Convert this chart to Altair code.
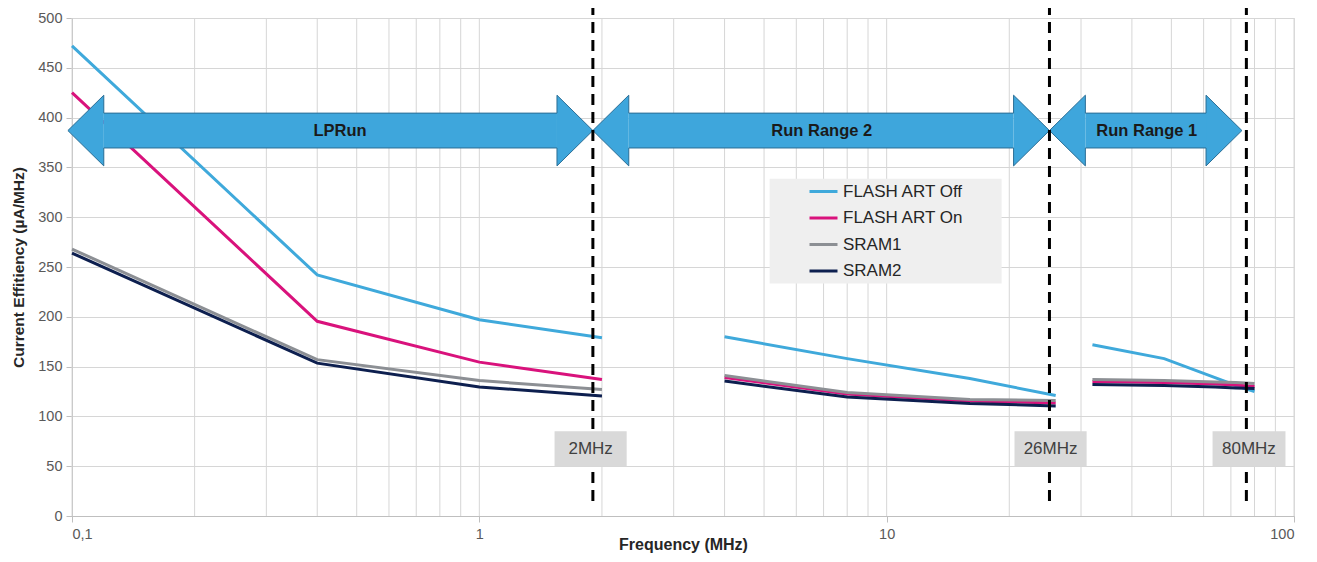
import altair as alt
import pandas as pd

# ---------------- data ----------------
SERIES = ["FLASH ART Off", "FLASH ART On", "SRAM1", "SRAM2"]
COLORS = ["#3fa9db", "#d9127c", "#8c8f94", "#0d1f4f"]

FREQ_LP = [0.1, 0.4, 1, 2]
FREQ_R2 = [4, 8, 16, 26]
FREQ_R1 = [32, 48, 64, 72, 80]

FLASH_OFF_LP = [472, 242, 197, 179]
FLASH_OFF_R2 = [180, 158, 138, 121]
FLASH_OFF_R1 = [172, 158, 139, 131, 125]

FLASH_ON_LP = [425, 195.5, 154.5, 137]
FLASH_ON_R2 = [139, 122.5, 115.5, 113.5]
FLASH_ON_R1 = [135, 134, 132.5, 131.5, 130]

SRAM1_LP = [268, 157, 136, 127]
SRAM1_R2 = [141, 124, 117, 116]
SRAM1_R1 = [137, 136, 134.5, 134, 133]

SRAM2_LP = [264, 153.5, 129.5, 120.5]
SRAM2_R2 = [135.5, 119.5, 113, 110.5]
SRAM2_R1 = [132, 131, 129.5, 128.5, 128]

X_TICKS = [0.1, 1, 10, 100]
X_GRID = [m * d for d in (0.1, 1, 10) for m in range(1, 10)] + [100]
Y_TICKS = list(range(0, 501, 50))

# range annotations
RANGE_NAMES = ["LPRun", "Run Range 2", "Run Range 1"]
RANGE_START = [0.0977, 1.9, 25.1]
RANGE_END = [1.9, 25.1, 74.5]
RANGE_LABEL_X = [0.455, 6.93, 43.5]
ARROW_Y = 387
ARROW_BODY = 17.5
ARROW_HEAD = 35.5
HEAD_FACTOR = 1.225

BOUNDARY_FREQ = [1.9, 25.1, 76.4]
BOUNDARY_LABEL = ["2MHz", "26MHz", "80MHz"]
BOX_LO = [1.53, 20.6, 63.1]
BOX_HI = [2.30, 30.97, 95.3]
BOX_TEXT_X = [1.876, 25.26, 77.5]
BOX_Y = [50, 85]

LEGEND_BOX_X = [5.16, 19.15]
LEGEND_BOX_Y = [233.5, 338.7]

FONT = "Liberation Sans"

# ---------------- tables ----------------
rows = []
series_vals = {
    "FLASH ART Off": [FLASH_OFF_LP, FLASH_OFF_R2, FLASH_OFF_R1],
    "FLASH ART On": [FLASH_ON_LP, FLASH_ON_R2, FLASH_ON_R1],
    "SRAM1": [SRAM1_LP, SRAM1_R2, SRAM1_R1],
    "SRAM2": [SRAM2_LP, SRAM2_R2, SRAM2_R1],
}
for s in SERIES:
    for seg, (fr, vals) in enumerate(zip([FREQ_LP, FREQ_R2, FREQ_R1], series_vals[s])):
        for f, v in zip(fr, vals):
            rows.append({"series": s, "seg": f"{s}-{seg}", "f": f, "v": v})
lines_df = pd.DataFrame(rows)

head_rows, body_rows, outline_rows = [], [], []
yc, yb0, yb1 = ARROW_Y, ARROW_Y - ARROW_BODY, ARROW_Y + ARROW_BODY
yh0, yh1 = ARROW_Y - ARROW_HEAD, ARROW_Y + ARROW_HEAD
for name, a, b in zip(RANGE_NAMES, RANGE_START, RANGE_END):
    ha, hb = a * HEAD_FACTOR, b / HEAD_FACTOR
    head_rows += [
        {"hid": name + "-L", "f": a, "v": yc, "v2": yc},
        {"hid": name + "-L", "f": ha, "v": yh0, "v2": yh1},
        {"hid": name + "-R", "f": hb, "v": yh0, "v2": yh1},
        {"hid": name + "-R", "f": b, "v": yc, "v2": yc},
    ]
    body_rows.append({"name": name, "f": ha, "f2": hb, "v": yb0, "v2": yb1})
    poly = [(a, yc), (ha, yh1), (ha, yb1), (hb, yb1), (hb, yh1), (b, yc),
            (hb, yh0), (hb, yb0), (ha, yb0), (ha, yh0), (a, yc)]
    for k, (x, y) in enumerate(poly):
        outline_rows.append({"name": name, "k": k, "f": x, "v": y})
head_df = pd.DataFrame(head_rows)
body_df = pd.DataFrame(body_rows)
outline_df = pd.DataFrame(outline_rows)
arrow_lbl_df = pd.DataFrame({"name": RANGE_NAMES, "f": RANGE_LABEL_X, "v": [ARROW_Y] * 3})

grid_df = pd.DataFrame({"f": X_GRID, "v": [0] * len(X_GRID), "v2": [500] * len(X_GRID)})
bound_df = pd.DataFrame({"f": BOUNDARY_FREQ, "v": [15] * 3, "v2": [517] * 3})
box_df = pd.DataFrame({"lbl": BOUNDARY_LABEL, "f": BOX_LO, "f2": BOX_HI,
                       "fc": BOX_TEXT_X, "v": [BOX_Y[0]] * 3, "v2": [BOX_Y[1]] * 3,
                       "vc": [(BOX_Y[0] + BOX_Y[1]) / 2] * 3})
leg_df = pd.DataFrame({"f": [LEGEND_BOX_X[0]], "f2": [LEGEND_BOX_X[1]],
                       "v": [LEGEND_BOX_Y[0]], "v2": [LEGEND_BOX_Y[1]]})

# ---------------- encodings ----------------
xscale = alt.Scale(type="log", domain=[0.1, 100], nice=False)
yscale = alt.Scale(domain=[0, 500], nice=False)
xaxis = alt.Axis(values=X_TICKS, grid=False, title="Frequency (MHz)",
                 labelExpr="replace(format(datum.value, '~g'), '.', ',')",
                 labelFont=FONT, labelFontSize=14.5, labelColor="#595959", labelPadding=5,
                 tickSize=6, tickColor="#bfbfbf", domainColor="#bfbfbf",
                 titleFont=FONT, titleFontSize=16, titleFontWeight="bold",
                 titleColor="#262626", titleY=33, titleBaseline="alphabetic")
yaxis = alt.Axis(values=Y_TICKS, grid=True, gridColor="#d6d6d6",
                 title="Current Effitiency (µA/MHz)",
                 labelFont=FONT, labelFontSize=14.5, labelColor="#595959", labelPadding=4,
                 tickSize=6, tickColor="#bfbfbf", domainColor="#bfbfbf",
                 titleFont=FONT, titleFontSize=15.5, titleFontWeight="bold",
                 titleColor="#262626", titlePadding=11)


def X(field):
    return alt.X(field, type="quantitative", scale=xscale, axis=xaxis)


def Y(field):
    return alt.Y(field, type="quantitative", scale=yscale, axis=yaxis, stack=None)


grid = alt.Chart(grid_df).mark_rule(color="#d6d6d6", strokeWidth=1).encode(
    x=X("f"), y=Y("v"), y2="v2")

lines = alt.Chart(lines_df).mark_line(strokeWidth=3).encode(
    x=X("f"), y=Y("v"),
    color=alt.Color("series:N",
                    scale=alt.Scale(domain=SERIES, range=COLORS),
                    legend=alt.Legend(orient="none", legendX=736, legendY=158, title=None,
                                      symbolType="stroke", symbolSize=784,
                                      symbolStrokeWidth=3, labelFont=FONT,
                                      labelFontSize=17, labelColor="#262626",
                                      labelOffset=4, rowPadding=2.5, padding=0)),
    detail="seg:N",
    order=alt.Order("f:Q"),
)

ARROW_FILL = "#3ea6dc"
ARROW_EDGE = "#2b6e96"
heads = alt.Chart(head_df).mark_area(color=ARROW_FILL, opacity=1).encode(
    x=X("f"), y=Y("v"), y2="v2", detail="hid:N")
bodies = alt.Chart(body_df).mark_rect(color=ARROW_FILL, opacity=1).encode(
    x=X("f"), x2="f2", y=Y("v"), y2="v2")
outline = alt.Chart(outline_df).mark_line(color=ARROW_EDGE, strokeWidth=1).encode(
    x=X("f"), y=Y("v"), detail="name:N", order=alt.Order("k:Q"))

arrow_text = alt.Chart(arrow_lbl_df).mark_text(font=FONT, fontSize=16.5, fontWeight="bold",
                                               color="#1a1a1a").encode(
    x=X("f"), y=Y("v"), text="name:N")

legend_bg = alt.Chart(leg_df).mark_rect(color="#efefef").encode(
    x=X("f"), x2="f2", y=Y("v"), y2="v2")

bounds = alt.Chart(bound_df).mark_rule(color="black", strokeWidth=3,
                                       strokeDash=[11, 7]).encode(
    x=X("f"), y=Y("v"), y2="v2")

boxes = alt.Chart(box_df).mark_rect(color="#d9d9d9").encode(
    x=X("f"), x2="f2", y=Y("v"), y2="v2")

box_text = alt.Chart(box_df).mark_text(font=FONT, fontSize=17, color="#404040").encode(
    x=X("fc"), y=Y("vc"), text="lbl:N")

chart = alt.layer(grid, legend_bg, lines, heads, bodies, outline, arrow_text,
                  bounds, boxes, box_text).properties(
    width=1222, height=498,
    autosize=alt.AutoSizeParams(type="none"),
    padding={"left": 64, "top": 10, "right": 15, "bottom": 38},
).configure_view(stroke=None).configure(background="white")

chart.save("out.html", embed_options={"renderer": "svg", "actions": False})
